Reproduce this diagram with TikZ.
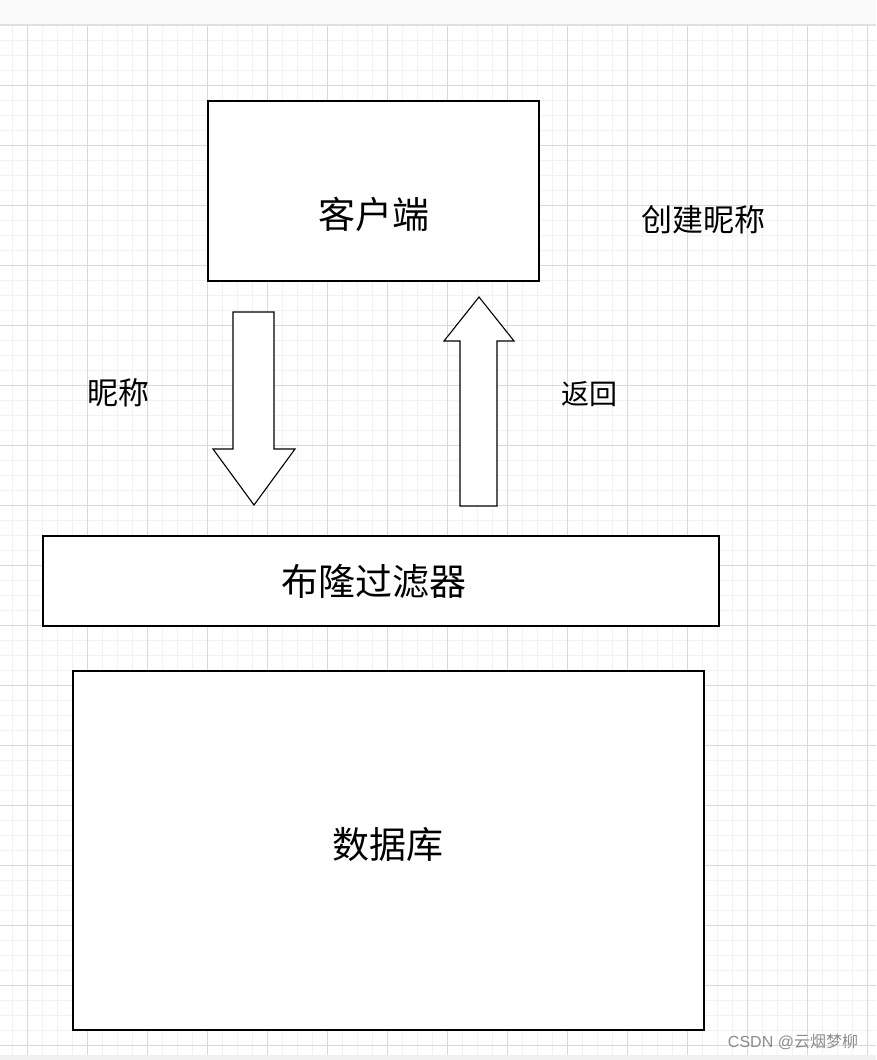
\documentclass[tikz,border=0pt]{standalone}
\usepackage{fontspec}
\newfontfamily\cjk{Noto Sans CJK SC}
\tikzset{
  box/.style={draw=black, line width=1.1pt, fill=white, inner sep=0pt},
  big/.style={font=\cjk\fontsize{37}{40}\selectfont},
  lbl/.style={font=\cjk\fontsize{31}{36}\selectfont},
  fatarrow/.style={draw=black, line width=1.1pt, fill=white, line join=miter}
}
\begin{document}
\begin{tikzpicture}[x=1pt,y=-1pt]
\useasboundingbox (0,0) rectangle (876,1060);
% grid paper
\fill[white] (0,0) rectangle (876,1060);
\foreach \gx in {12,27,...,876} \draw[color=black!5, line width=0.8pt] (\gx,25) -- (\gx,1055);
\foreach \gy in {40,55,...,1055} \draw[color=black!5, line width=0.8pt] (0,\gy) -- (876,\gy);
\foreach \gx in {27,87,...,876} \draw[color=black!15, line width=0.8pt] (\gx,25) -- (\gx,1055);
\foreach \gy in {85,145,...,1055} \draw[color=black!15, line width=0.8pt] (0,\gy) -- (876,\gy);
\fill[black!2] (0,0) rectangle (876,25);
\draw[black!12, line width=1.2pt] (0,25) -- (876,25);
\fill[black!6] (0,1055) rectangle (876,1060);

% boxes
\node[box, minimum width=331pt, minimum height=180pt] (client) at (373.5,191) {};
\node[box, minimum width=676pt, minimum height=90pt] (bloom) at (381,581) {};
\node[box, minimum width=631pt, minimum height=359pt] (db) at (388.5,850.5) {};
\node[big] (clienttxt) at (373.5,214) {客户端};
\node[big] (bloomtxt) at (374,581) {布隆过滤器};
\node[big] (dbtxt) at (388,845) {数据库};

% labels
\node[lbl] (create) at (703,220) {创建昵称};
\node[lbl] (nick) at (118,393) {昵称};
\node[lbl, font=\cjk\fontsize{28}{32}\selectfont] (ret) at (589,394) {返回};

% down arrow
\draw[fatarrow] (233,312) -- (274,312) -- (274,449) -- (295,449) -- (254,505)
  -- (213,449) -- (233,449) -- cycle;
% up arrow
\draw[fatarrow] (460,506) -- (497,506) -- (497,341) -- (514,341) -- (479,297)
  -- (444,341) -- (460,341) -- cycle;

% watermark
\node[font=\fontspec{Liberation Sans}\fontsize{16}{18}\selectfont, text=black!45] (mark) at (793,1042) {CSDN @{\cjk 云烟梦柳}};
\end{tikzpicture}
\end{document}
